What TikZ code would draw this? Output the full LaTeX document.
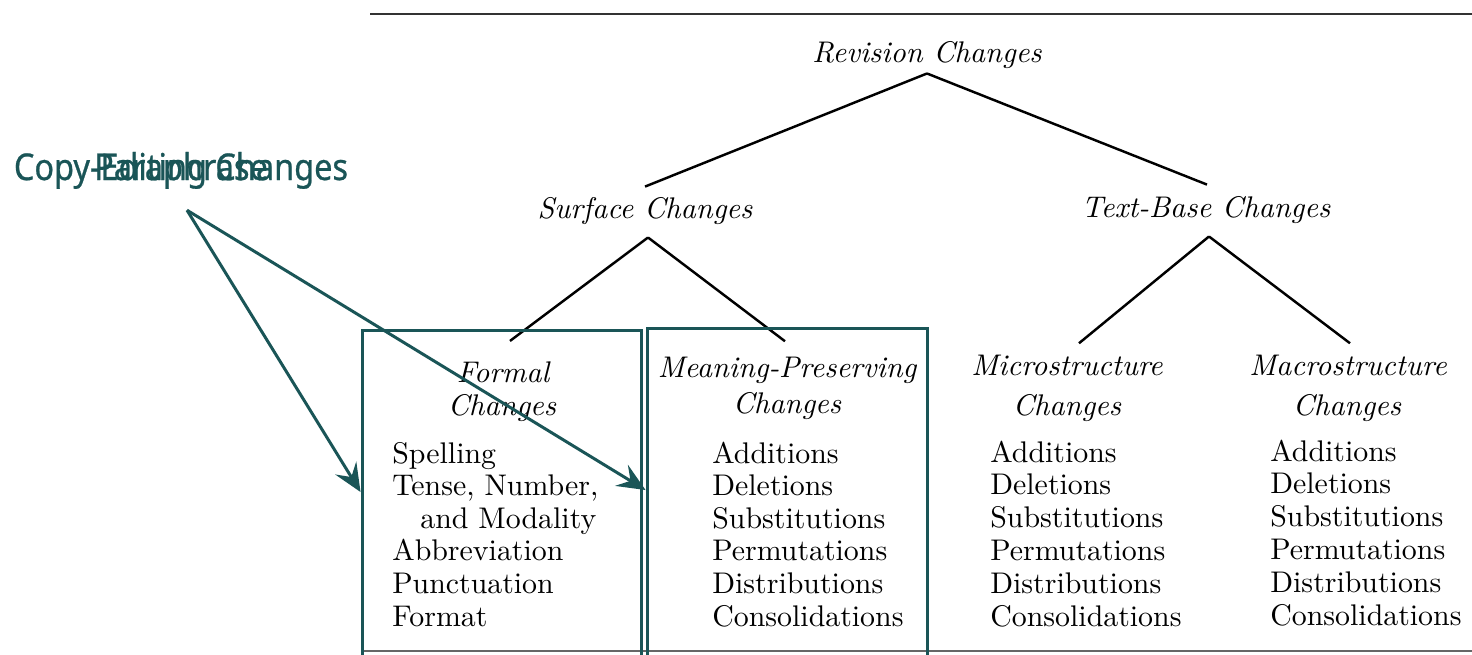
\documentclass[tikz,border=0pt]{standalone}
\usepackage{fontspec}
\usepackage{tikz}
\usetikzlibrary{calc,arrows.meta,positioning}
\setmainfont{lmroman10-regular.otf}[ItalicFont=lmroman10-italic.otf, BoldFont=lmroman10-bold.otf, BoldItalicFont=lmroman10-bolditalic.otf]
\newfontfamily\notefont[FakeStretch=0.88, FakeBold=0.7]{Noto Sans}
\definecolor{noteteal}{HTML}{1A5557}

\begin{document}
\begin{tikzpicture}[x=0.02cm,y=-0.02cm,
    head/.style={font=\fontsize{17}{20}\selectfont\itshape, inner sep=0pt, anchor=base},
    item/.style={font=\fontsize{17}{20}\selectfont, inner sep=0pt, anchor=base west},
    branch/.style={line width=1.4pt},
    notebox/.style={draw=noteteal, line width=1.7pt, inner sep=0pt},
    notearrow/.style={draw=noteteal, line width=1.7pt, -{Stealth[length=16pt,width=14pt,inset=6pt]}},
    notelabel/.style={font=\notefont\fontsize{21}{24}\selectfont, text=noteteal, inner sep=0pt, anchor=base}]
        \useasboundingbox (0,0) rectangle (1472,654);
        \clip (0,0) rectangle (1472,654);
        \draw [black!80, line width=1pt] (370,14) -- (1472,14);   % top rule
        \draw [black!60, line width=1pt] (362,651) -- (1472,651); % bottom rule

        % tree
        \node [head] (rev) at (927,62) {Revision Changes};
        \node [head] (surf) at (645,218) {Surface Changes};
        \node [head] (tb) at (1206,217) {Text-Base Changes};
        \node [head] (formal1) at (503,382) {Formal};
        \node [head] (formal2) at (502,415) {Changes};
        \node [head] (mp1) at (787,377) {Meaning-Preserving};
        \node [head] (mp2) at (787,413) {Changes};
        \node [head] (micro1) at (1067,375) {Microstructure};
        \node [head] (micro2) at (1067,415) {Changes};
        \node [head] (macro1) at (1348,375) {Macrostructure};
        \node [head] (macro2) at (1347,415) {Changes};

        \draw [branch] ($(rev.south)+(0,5)$) -- ($(surf.north)+(0,-10)$);
        \draw [branch] ($(rev.south)+(0,5)$) -- ($(tb.north)+(1,-11)$);
        \draw [branch] ($(surf.south)+(3,13)$) -- ($(formal1.north)+(7,-20)$);
        \draw [branch] ($(surf.south)+(3,13)$) -- ($(mp1.north)+(-2,-15)$);
        \draw [branch] ($(tb.south)+(3,13)$) -- ($(micro1.north)+(12,-11)$);
        \draw [branch] ($(tb.south)+(3,13)$) -- ($(macro1.north)+(2,-11)$);

        % lists
        \node [item] (f0) at (392,463) {Spelling};
        \node [item] (f1) at (392,495.6) {Tense, Number,};
        \node [item] (f2) at (420,528.2) {and Modality};
        \node [item] (f3) at (392,560.8) {Abbreviation};
        \node [item] (f4) at (392,593.4) {Punctuation};
        \node [item] (f5) at (392,626) {Format};
        \foreach \t [count=\i from 0] in {Additions,Deletions,Substitutions,Permutations,Distributions,Consolidations} {
            \node [item] (mp-\i) at (712,{463+32.6*\i}) {\t};
            \node [item] (mi-\i) at (990,{462+32.8*\i}) {\t};
            \node [item] (ma-\i) at (1270,{461+32.8*\i}) {\t};
        }

        % annotations
        \node [notebox, minimum width=5.6cm, minimum height=7cm] (formalbox) at (502,505) {};
        \node [notebox, minimum width=5.62cm, minimum height=7.02cm] (mpbox) at (787.5,504) {};
        \node [notelabel] (copyed) at (181,180) {Copy-Editing Changes};
        \node [notelabel] (para) at (181,180) {Paraphrase};
        \draw [notearrow] ($(copyed.south)+(6,21)$) -- ([yshift=0.26cm]formalbox.west);
        \draw [notearrow] ($(para.south)+(6,21)$) -- ([yshift=0.28cm]mpbox.west);
\end{tikzpicture}
\end{document}
